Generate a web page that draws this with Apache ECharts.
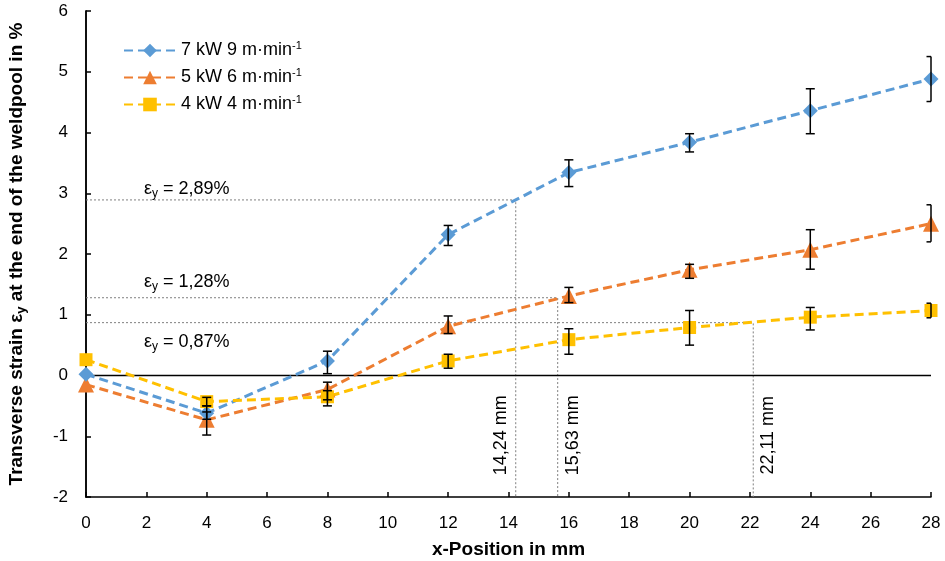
<!DOCTYPE html>
<html><head><meta charset="utf-8">
<script src="https://cdn.jsdelivr.net/npm/echarts@6/dist/echarts.min.js"></script>
<style>html,body{margin:0;padding:0;background:#fff}#c{width:945px;height:561px}</style>
</head><body><div id="c"></div>
<script>
// ---- data ----
const xPos = [0, 4, 8, 12, 16, 20, 24, 28];
const names = ['7 kW 9 m·min-1', '5 kW 6 m·min-1', '4 kW 4 m·min-1'];
const blue   = [0.02, -0.62, 0.24, 2.32, 3.34, 3.84, 4.36, 4.88];
const orange = [-0.15, -0.73, -0.23, 0.81, 1.31, 1.74, 2.07, 2.50];
const yellow = [0.26, -0.43, -0.35, 0.24, 0.59, 0.79, 0.96, 1.07];
// error bars [low, high] (null = none)
const blueErr   = [null, [-0.72, -0.50], [0.03, 0.40], [2.14, 2.47], [3.11, 3.55], [3.68, 3.98], [3.98, 4.72], [4.51, 5.25]];
const orangeErr = [null, [-0.98, -0.60], [-0.40, -0.11], [0.69, 0.98], [1.20, 1.45], [1.60, 1.83], [1.75, 2.40], [2.20, 2.81]];
const yellowErr = [null, [-0.50, -0.36], [-0.50, -0.25], [0.12, 0.35], [0.35, 0.77], [0.50, 1.07], [0.75, 1.12], [0.95, 1.19]];
// threshold annotations
const thrStrain = [2.89, 1.28, 0.87];
const thrPos    = [14.24, 15.63, 22.11];
const thrStrainLabel = ['2,89%', '1,28%', '0,87%'];
const thrPosLabel = ['14,24 mm', '15,63 mm', '22,11 mm'];
const xTicks = [0, 28, 2];
const yTicks = [-2, 6, 1];

const colors = ['#5B9BD5', '#ED7D31', '#FFC000'];
const symbols = ['diamond', 'triangle', 'rect'];
const symSizes = [15, 16, 13];
const vals = [blue, orange, yellow];
const errs = [blueErr, orangeErr, yellowErr];
const FONT = 'Liberation Sans, Arial, sans-serif';
const FS = 17;

const chart = echarts.init(document.getElementById('c'), null, {renderer: 'canvas'});

const series = [];
// threshold dotted lines + labels
series.push({
  type: 'custom', silent: true, z: 1,
  data: thrStrain.map((s, i) => [thrPos[i], s, i]),
  renderItem: function (params, api) {
    const xc = api.value(0), yv = api.value(1), i = api.value(2);
    const p0 = api.coord([0, yv]);
    const p1 = api.coord([xc, yv]);
    const p2 = api.coord([xc, yTicks[0]]);
    const labYOff = [-11, -16, 19][i];
    const vxOff = [-15, 15, 15][i];
    return {
      type: 'group',
      children: [
        {type: 'polyline', shape: {points: [p0, p1, p2]},
         style: {stroke: '#7f7f7f', lineWidth: 1, lineDash: [2, 2], fill: null}},
        {type: 'text', x: p0[0] + 58, y: p1[1] + labYOff,
         style: {text: '{a|ε}{s|y}{a| = ' + thrStrainLabel[i] + '}', align: 'left', verticalAlign: 'middle',
           rich: {a: {fontSize: 18, fontFamily: FONT, fill: '#000', lineHeight: 22},
                  s: {fontSize: 12, fontFamily: FONT, fill: '#000', lineHeight: 22, padding: [10, 0, 0, 0]}}}},
        {type: 'text', x: p1[0] + vxOff, y: api.coord([0, -1])[1] - 1, rotation: Math.PI / 2,
         style: {text: thrPosLabel[i], align: 'center', verticalAlign: 'middle',
           fontSize: 18, fontFamily: FONT, fill: '#000'}}
      ]
    };
  }
});

// zero line
series.push({
  type: 'line', data: [[xTicks[0], 0], [xTicks[1], 0]], symbol: 'none', silent: true, z: 1,
  lineStyle: {color: '#000', width: 1.5}, legendHoverLink: false, tooltip: {show: false}
});

[1, 0, 2].forEach(k => {
  series.push({
    name: names[k], type: 'line', z: 3,
    data: xPos.map((x, i) => [x, vals[k][i]]),
    symbol: symbols[k], symbolSize: symSizes[k], showAllSymbol: true,
    itemStyle: {color: colors[k]},
    lineStyle: {color: colors[k], width: 3, type: [9, 5]},
    emphasis: {disabled: true}
  });
});

// error bars
series.push({
  type: 'custom', z: 5, silent: true,
  data: (function () {
    const d = [];
    errs.forEach(e => e.forEach((r, i) => { if (r) d.push([xPos[i], r[0], r[1]]); }));
    return d;
  })(),
  renderItem: function (params, api) {
    const lo = api.coord([api.value(0), api.value(1)]);
    const hi = api.coord([api.value(0), api.value(2)]);
    const w = 4.5;
    const xmax = params.coordSys.x + params.coordSys.width;
    const st = {stroke: '#000', lineWidth: 1.5};
    return {
      type: 'group',
      children: [
        {type: 'line', shape: {x1: lo[0], y1: lo[1], x2: hi[0], y2: hi[1]}, style: st},
        {type: 'line', shape: {x1: lo[0] - w, y1: lo[1], x2: Math.min(lo[0] + w, xmax), y2: lo[1]}, style: st},
        {type: 'line', shape: {x1: hi[0] - w, y1: hi[1], x2: Math.min(hi[0] + w, xmax), y2: hi[1]}, style: st}
      ]
    };
  }
});

const option = {
  animation: false,
  backgroundColor: '#fff',
  textStyle: {fontFamily: FONT},
  grid: {left: 86, right: 14, top: 11, bottom: 64, containLabel: false, outerBoundsMode: 'none'},
  legend: {
    data: names,
    orient: 'vertical', left: 118, top: 35, itemWidth: 52, itemHeight: 17, itemGap: 7.5,
    textStyle: {fontSize: 18, color: '#000', fontFamily: FONT,
      rich: {sup: {fontSize: 11, fontFamily: FONT, color: '#000', padding: [0, 0, 10, 0]}}},
    formatter: n => n.replace('-1', '{sup|-1}')
  },
  xAxis: {
    type: 'value', min: xTicks[0], max: xTicks[1], interval: xTicks[2],
    axisLine: {show: true, onZero: false, lineStyle: {color: '#000', width: 1.5}},
    axisTick: {show: true, inside: true, length: 5, lineStyle: {color: '#000', width: 1.5}},
    axisLabel: {fontSize: FS, color: '#000', margin: 18, fontFamily: FONT},
    splitLine: {show: false},
    name: 'x-Position in mm', nameLocation: 'middle', nameGap: 43,
    nameTextStyle: {fontSize: 19, fontWeight: 'bold', color: '#000', fontFamily: FONT}
  },
  yAxis: [{
    type: 'value', min: yTicks[0], max: yTicks[1], interval: yTicks[2],
    axisLine: {show: true, onZero: false, lineStyle: {color: '#000', width: 1.5}},
    axisTick: {show: true, inside: true, length: 5, lineStyle: {color: '#000', width: 1.5}},
    axisLabel: {fontSize: FS, color: '#000', margin: 18, fontFamily: FONT},
    splitLine: {show: false},
    name: 'Transverse strain ε{s|y} at the end of the weldpool in %', nameLocation: 'middle', nameGap: 58,
    nameTextStyle: {fontSize: 19, fontWeight: 'bold', color: '#000', fontFamily: FONT,
      rich: {s: {fontSize: 13, fontWeight: 'bold', fontFamily: FONT, color: '#000', padding: [10, 0, 0, 0]}}}
  }, {
    type: 'value', position: 'right', min: yTicks[0], max: yTicks[1], interval: yTicks[2],
    axisLine: {show: true, lineStyle: {color: '#000', width: 1.5}},
    axisTick: {show: false}, axisLabel: {show: false}, splitLine: {show: false}
  }],
  series: series
};
chart.setOption(option);
</script>
</body></html>
